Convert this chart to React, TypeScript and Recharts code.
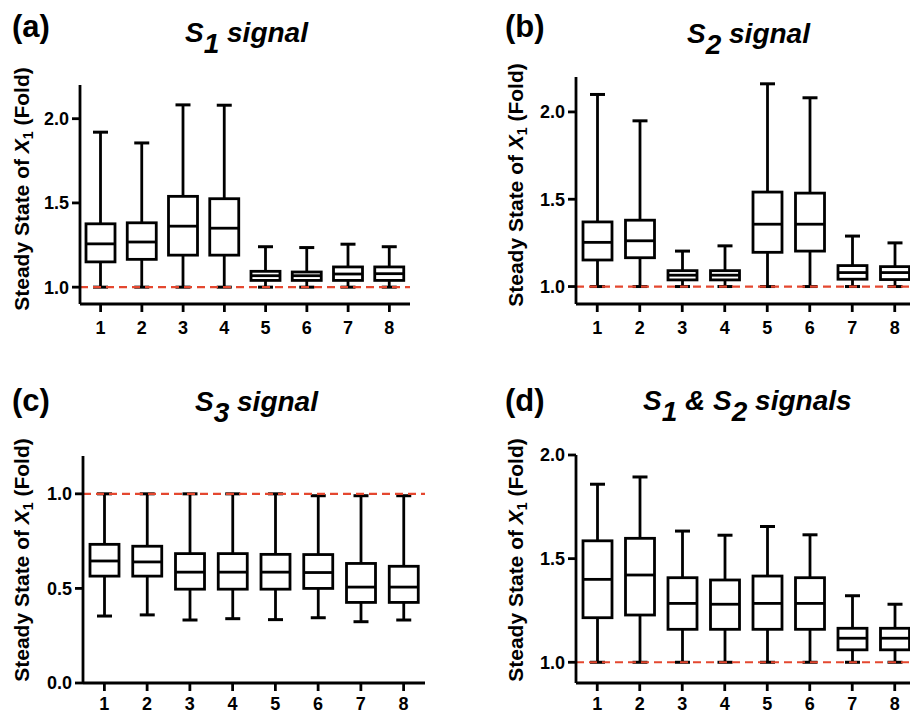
import React from 'react';
import { BarChart, Bar, XAxis, YAxis, ReferenceLine } from 'recharts';

const categories = ['1', '2', '3', '4', '5', '6', '7', '8'];

// (a) S1 signal
const s1Min = [1, 1, 1, 1, 1, 1, 1, 1];
const s1Q1 = [1.15, 1.165, 1.19, 1.19, 1.04, 1.04, 1.04, 1.04];
const s1Median = [1.257, 1.268, 1.362, 1.35, 1.068, 1.068, 1.078, 1.08];
const s1Q3 = [1.376, 1.382, 1.539, 1.525, 1.094, 1.09, 1.12, 1.12];
const s1Max = [1.92, 1.856, 2.082, 2.08, 1.24, 1.235, 1.255, 1.24];

// (b) S2 signal
const s2Min = [1, 1, 1, 1, 1, 1, 1, 1];
const s2Q1 = [1.152, 1.165, 1.038, 1.038, 1.196, 1.203, 1.042, 1.04];
const s2Median = [1.253, 1.262, 1.065, 1.065, 1.357, 1.357, 1.08, 1.08];
const s2Q3 = [1.37, 1.38, 1.091, 1.091, 1.541, 1.535, 1.12, 1.114];
const s2Max = [2.1, 1.949, 1.203, 1.233, 2.161, 2.081, 1.289, 1.25];

// (c) S3 signal
const s3Min = [0.354, 0.36, 0.333, 0.34, 0.335, 0.345, 0.324, 0.333];
const s3Q1 = [0.565, 0.565, 0.496, 0.496, 0.496, 0.5, 0.426, 0.426];
const s3Median = [0.645, 0.64, 0.586, 0.586, 0.586, 0.584, 0.507, 0.507];
const s3Q3 = [0.733, 0.723, 0.684, 0.684, 0.68, 0.679, 0.632, 0.617];
const s3Max = [1, 1, 1, 1, 1, 0.99, 0.99, 0.99];

// (d) S1 & S2 signals
const s12Min = [1, 1, 1, 1, 1, 1, 1, 1];
const s12Q1 = [1.215, 1.228, 1.159, 1.159, 1.159, 1.159, 1.06, 1.06];
const s12Median = [1.4, 1.421, 1.284, 1.28, 1.284, 1.284, 1.116, 1.116];
const s12Q3 = [1.586, 1.598, 1.408, 1.397, 1.416, 1.408, 1.164, 1.164];
const s12Max = [1.859, 1.894, 1.633, 1.613, 1.655, 1.615, 1.321, 1.28];

const FONT = '"Liberation Sans", Arial, Helvetica, sans-serif';

const buildRows = (min: number[], q1: number[], median: number[], q3: number[], max: number[]) =>
  categories.map((name, i) => ({
    name,
    min: min[i],
    q1: q1[i],
    median: median[i],
    q3: q3[i],
    max: max[i],
    range: [min[i], max[i]],
  }));

// box + whiskers, positions taken from the bar's own [min, max] pixel span
const BoxShape = (props: any) => {
  const { x, y, width, height, payload } = props;
  if (!payload) return null;
  const top = Math.min(y, y + height);
  const bottom = Math.max(y, y + height);
  const span = payload.max - payload.min;
  const toY = (v: number) => bottom - ((v - payload.min) / span) * (bottom - top);
  const cx = x + width / 2;
  const cap = 7.5;
  const yQ1 = toY(payload.q1);
  const yMed = toY(payload.median);
  const yQ3 = toY(payload.q3);
  return (
    <g stroke="#000" strokeWidth={2.8} fill="#fff">
      <line x1={cx} x2={cx} y1={top} y2={yQ3} />
      <line x1={cx} x2={cx} y1={yQ1} y2={bottom} />
      <line x1={cx - cap} x2={cx + cap} y1={top} y2={top} strokeWidth={3} />
      <line x1={cx - cap} x2={cx + cap} y1={bottom} y2={bottom} strokeWidth={3} />
      <rect x={x} y={yQ3} width={width} height={yQ1 - yQ3} />
      <line x1={x} x2={x + width} y1={yMed} y2={yMed} />
    </g>
  );
};

type PanelProps = {
  left: number;
  top: number;
  width: number;
  height: number;
  margin: { top: number; right: number; bottom: number; left: number };
  domain: [number, number];
  ticks: number[];
  rows: any[];
  tickMargin: number;
};

const axisStyle = { stroke: '#000', strokeWidth: 2.8 };
const tickStyle = { fill: '#000', fontSize: 18, fontWeight: 700, fontFamily: FONT };

const Panel = ({ left, top, width, height, margin, domain, ticks, rows, tickMargin }: PanelProps) => (
  <div style={{ position: 'absolute', left, top }}>
    <BarChart width={width} height={height} data={rows} margin={margin}>
      <XAxis
        dataKey="name"
        interval={0}
        height={30}
        tickSize={8}
        tickMargin={tickMargin}
        axisLine={axisStyle}
        tickLine={axisStyle}
        tick={tickStyle}
      />
      <YAxis
        type="number"
        width={60}
        domain={domain}
        ticks={ticks}
        allowDataOverflow
        tickSize={8}
        tickMargin={3}
        axisLine={axisStyle}
        tickLine={axisStyle}
        tick={tickStyle}
        tickFormatter={(v: number) => v.toFixed(1)}
      />
      <ReferenceLine y={1} stroke="#e4472f" strokeWidth={2.2} strokeDasharray="8 5" />
      <Bar dataKey="range" barSize={29} shape={BoxShape} isAnimationActive={false} />
    </BarChart>
  </div>
);

const Title = ({ x, y, parts }: { x: number; y: number; parts: [string, string][] }) => (
  <text x={x} y={y} fontFamily={FONT} fontSize={28} fontWeight={700} fontStyle="italic" fill="#000">
    {parts.map(([main, sub], i) => (
      <React.Fragment key={i}>
        <tspan dy={i === 0 ? 0 : -11}>{main}</tspan>
        {sub ? <tspan dy={11}>{sub}</tspan> : <tspan dy={11}></tspan>}
      </React.Fragment>
    ))}
  </text>
);

const YLabel = ({ x, y }: { x: number; y: number }) => (
  <text
    x={x}
    y={y}
    transform={`rotate(-90 ${x} ${y})`}
    textAnchor="middle"
    fontFamily={FONT}
    fontSize={21}
    fontWeight={700}
    fill="#000"
  >
    Steady State of <tspan fontStyle="italic">X</tspan>
    <tspan fontSize={14} dy={4}>1</tspan>
    <tspan dy={-4}> (Fold)</tspan>
  </text>
);

const Letter = ({ x, y, label }: { x: number; y: number; label: string }) => (
  <text x={x} y={y} fontFamily={FONT} fontSize={31} fontWeight={700} fill="#000">
    {label}
  </text>
);

export default function App() {
  return (
    <div
      style={{
        position: 'fixed',
        left: 0,
        top: 0,
        width: 910,
        height: 714,
        overflow: 'hidden',
        background: '#fff',
      }}
    >
      <Panel
        left={0}
        top={0}
        width={430}
        height={350}
        margin={{ top: 85, right: 20, bottom: 16, left: 20 }}
        domain={[0.9, 2.2]}
        ticks={[1, 1.5, 2]}
        rows={buildRows(s1Min, s1Q1, s1Median, s1Q3, s1Max)}
        tickMargin={9}
      />
      <Panel
        left={455}
        top={0}
        width={480}
        height={350}
        margin={{ top: 77, right: 19, bottom: 16, left: 61 }}
        domain={[0.9, 2.2]}
        ticks={[1, 1.5, 2]}
        rows={buildRows(s2Min, s2Q1, s2Median, s2Q3, s2Max)}
        tickMargin={9}
      />
      <Panel
        left={0}
        top={360}
        width={440}
        height={354}
        margin={{ top: 96, right: 15, bottom: 1, left: 23 }}
        domain={[0, 1.2]}
        ticks={[0, 0.5, 1]}
        rows={buildRows(s3Min, s3Q1, s3Median, s3Q3, s3Max)}
        tickMargin={6}
      />
      <Panel
        left={455}
        top={360}
        width={480}
        height={354}
        margin={{ top: 95, right: 19, bottom: 1, left: 61 }}
        domain={[0.9, 2.0]}
        ticks={[1, 1.5, 2]}
        rows={buildRows(s12Min, s12Q1, s12Median, s12Q3, s12Max)}
        tickMargin={6}
      />
      <svg
        width={910}
        height={714}
        style={{ position: 'absolute', left: 0, top: 0, pointerEvents: 'none' }}
      >
        <Letter x={12} y={37} label="(a)" />
        <Letter x={505} y={37} label="(b)" />
        <Letter x={12} y={411} label="(c)" />
        <Letter x={505} y={411} label="(d)" />
        <Title x={185} y={42} parts={[['S', '1'], [' signal', '']]} />
        <Title x={687} y={43} parts={[['S', '2'], [' signal', '']]} />
        <Title x={195} y={411} parts={[['S', '3'], [' signal', '']]} />
        <Title x={643} y={410} parts={[['S', '1'], [' & S', '2'], [' signals', '']]} />
        <YLabel x={29} y={189} />
        <YLabel x={523} y={185} />
        <YLabel x={29} y={560} />
        <YLabel x={523} y={560} />
      </svg>
    </div>
  );
}
